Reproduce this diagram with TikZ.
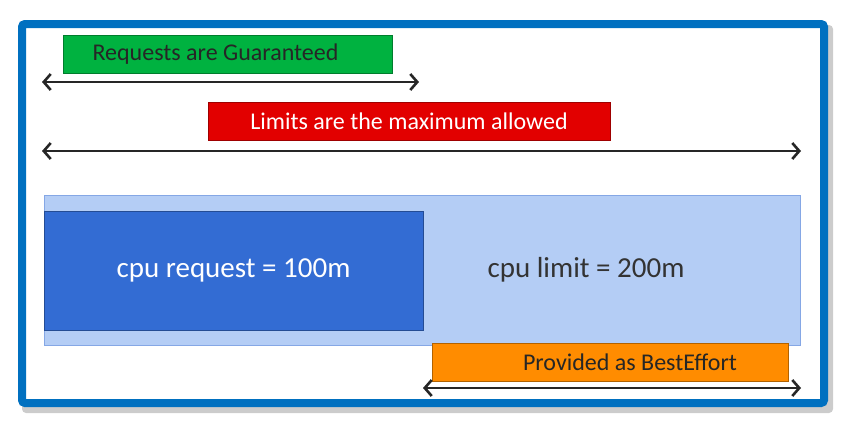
\documentclass[tikz,border=0pt]{standalone}
\usepackage{fontspec}
\setmainfont{Carlito}
\usepackage{tikz}
\usetikzlibrary{arrows.meta, positioning}
\definecolor{framblue}{RGB}{0,112,192}
\definecolor{reqgreen}{RGB}{0,178,64}
\definecolor{limred}{RGB}{226,0,0}
\definecolor{beorange}{RGB}{255,140,0}
\definecolor{cpudark}{RGB}{51,108,211}
\definecolor{cpulight}{RGB}{180,205,245}
\tikzset{>={Straight Barb[length=7pt,width=16pt]}}
\tikzset{
  banner/.style={draw=#1!70!black, fill=#1, line width=1pt, inner sep=0pt, minimum height=38pt},
  span/.style={<->, line width=2.6pt, draw=black!85},
}

\begin{document}
\begin{tikzpicture}[x=1pt,y=-1pt]
  \useasboundingbox (0,0) rectangle (842,423);
  % frame with shadow
  \fill [black!20, rounded corners=4pt] (22,25) rectangle (833,413);
  \filldraw [fill=white, draw=framblue, line width=8pt, rounded corners=3pt] (22,24) rectangle (824,403);
  % cpu bars
  \node [draw=cpudark!60, fill=cpulight, line width=0.8pt, minimum width=756pt, minimum height=150pt, inner sep=0pt] (limbar) at (422,270) {};
  \node [draw=cpudark!70!black, fill=cpudark, line width=0.8pt, minimum width=379pt, minimum height=119pt, inner sep=0pt, text=white, font=\fontsize{29}{32}\selectfont] (reqbar) at (233.5,270.5) {cpu request = 100m};
  \node [text=black!80, font=\fontsize{29}{32}\selectfont] (limtxt) at (586,270) {cpu limit = 200m};
  % banners
  \node [banner=reqgreen, minimum width=329pt, text=black!85, font=\fontsize{24}{27}\selectfont] (reqlab) at (227.5,54) {\hspace*{-24pt}Requests are Guaranteed};
  \node [banner=limred, minimum width=402pt, text=white, font=\fontsize{24}{27}\selectfont] (limlab) at (409,121) {Limits are the maximum allowed};
  \node [banner=beorange, minimum width=356pt, text=black!85, font=\fontsize{24}{27}\selectfont] (belab) at (610,362.5) {\hspace*{40pt}Provided as BestEffort};
  % spans
  \coordinate (reqL) at (42,82);
  \coordinate (reqR) at (419,82);
  \coordinate (limL) at (42,151);
  \coordinate (limR) at (801,151);
  \coordinate (beL) at (423,388);
  \coordinate (beR) at (801,388);
  \draw [span] (reqL) -- (reqR);
  \draw [span] (limL) -- (limR);
  \draw [span] (beL) -- (beR);
\end{tikzpicture}
\end{document}
